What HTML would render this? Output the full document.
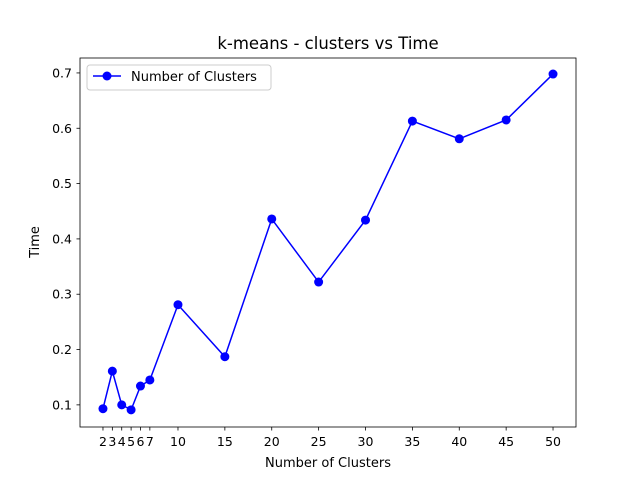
<!DOCTYPE html>
<html><head><meta charset="utf-8"><style>
body{margin:0;background:#fff}
svg{display:block;font-family:"DejaVu Sans","Liberation Sans",sans-serif}
</style></head><body>
<svg id="chart" width="640" height="480">
<rect width="640" height="480" fill="#fff"/>
<text x="328" y="49" text-anchor="middle" font-size="16.5">k-means - clusters vs Time</text>
<g id="ticks"></g>
<polyline id="line" fill="none" stroke="#0000ff" stroke-width="1.5"/>
<g id="pts"></g>
<rect x="80" y="58" width="496" height="369" fill="none" stroke="#000" stroke-width="0.8"/>
<text x="328" y="467" text-anchor="middle" font-size="13">Number of Clusters</text>
<text transform="translate(39,242) rotate(-90)" text-anchor="middle" font-size="13">Time</text>
<g>
<rect x="87" y="65" width="184" height="25" rx="3" fill="#fff" stroke="#ccc"/>
<line x1="93" y1="76" x2="121" y2="76" stroke="#0000ff" stroke-width="1.5"/>
<circle cx="107" cy="76" r="4.5" fill="#0000ff"/>
<text x="131" y="81" font-size="13">Number of Clusters</text>
</g>
</svg>
<script>
const clusters=[2,3,4,5,6,7,10,15,20,25,30,35,40,45,50];
const times=[0.093,0.161,0.100,0.091,0.134,0.145,0.281,0.187,0.436,0.322,0.434,0.613,0.581,0.615,0.698];
const xTicks=[2,3,4,5,6,7,10,15,20,25,30,35,40,45,50];
const yTicks=[0.1,0.2,0.3,0.4,0.5,0.6,0.7];
const NS="http://www.w3.org/2000/svg";
const X=v=>80+(v-(-0.45))/(52.45+0.45)*496;
const Y=v=>427-(v-0.060)/(0.727-0.060)*369;
const tg=document.getElementById('ticks');
function mk(t,a,p){const e=document.createElementNS(NS,t);for(const k in a)e.setAttribute(k,a[k]);p.appendChild(e);return e;}
xTicks.forEach(v=>{
  const x=X(v);
  mk('line',{x1:x,y1:427,x2:x,y2:430.5,stroke:'#000','stroke-width':0.8},tg);
  const t=mk('text',{x:x,y:446,'text-anchor':'middle','font-size':12.5},tg);
  t.textContent=v;
  
  
});
yTicks.forEach(v=>{
  const y=Y(v);
  mk('line',{x1:76.5,y1:y,x2:80,y2:y,stroke:'#000','stroke-width':0.8},tg);
  const t=mk('text',{x:72,y:y+4.5,'text-anchor':'end','font-size':12.5},tg);
  t.textContent=v.toFixed(1);
  
  
});
document.getElementById('line').setAttribute('points',clusters.map((c,i)=>X(c)+','+Y(times[i])).join(' '));
const pg=document.getElementById('pts');
clusters.forEach((c,i)=>{
  const p=mk('circle',{cx:X(c),cy:Y(times[i]),r:4.5,fill:'#0000ff'},pg);
  
  
});
</script>
</body></html>
